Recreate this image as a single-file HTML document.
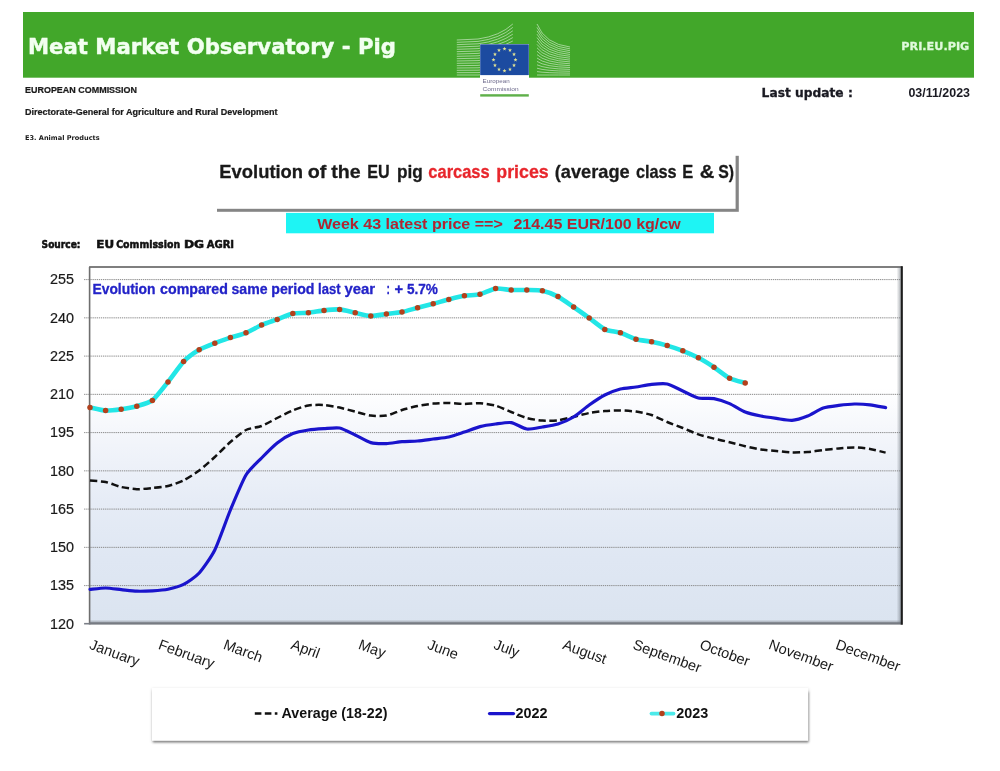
<!DOCTYPE html>
<html lang="en"><head><meta charset="utf-8"><title>Meat Market Observatory - Pig</title>
<style>html,body{margin:0;padding:0;background:#fff;}body{width:1000px;height:771px;overflow:hidden;}svg{display:block;filter:blur(0.35px);}.ar{font-family:"Liberation Sans",sans-serif;}.vd{font-family:"DejaVu Sans","Liberation Sans",sans-serif;}</style>
</head><body>
<svg width="1000" height="771" viewBox="0 0 1000 771">
<defs>
<linearGradient id="pg" x1="0" y1="0" x2="0" y2="1"><stop offset="0" stop-color="#ffffff"/><stop offset="0.34" stop-color="#ffffff"/><stop offset="0.5" stop-color="#f1f4fa"/><stop offset="0.655" stop-color="#e6ecf6"/><stop offset="0.82" stop-color="#dfe7f3"/><stop offset="1" stop-color="#dbe4f0"/></linearGradient>
<filter id="sh" x="-5%" y="-20%" width="110%" height="150%"><feGaussianBlur stdDeviation="1.2"/></filter>
<filter id="sh2" x="-5%" y="-20%" width="110%" height="150%"><feGaussianBlur stdDeviation="0.5"/></filter>
<filter id="sh3" x="-5%" y="-30%" width="110%" height="160%"><feGaussianBlur stdDeviation="1.6"/></filter>
<linearGradient id="bb" x1="0" y1="0" x2="0" y2="1"><stop offset="0" stop-color="#7a7e86" stop-opacity="0"/><stop offset="0.45" stop-color="#7a7e86" stop-opacity="0.45"/><stop offset="0.62" stop-color="#787c84" stop-opacity="1"/><stop offset="1" stop-color="#74787f" stop-opacity="1"/></linearGradient>
<linearGradient id="rb" x1="0" y1="0" x2="1" y2="0"><stop offset="0" stop-color="#6c747c" stop-opacity="0"/><stop offset="1" stop-color="#6c747c" stop-opacity="0.6"/></linearGradient>
</defs>
<rect width="1000" height="771" fill="#ffffff"/>
<rect x="23" y="12" width="951" height="65.7" fill="#42a72a"/>
<text class="vd" x="28" y="53.6" font-size="21.2" font-weight="bold" fill="#f2fff0" stroke="#f2fff0" stroke-width="0.45" textLength="368" lengthAdjust="spacingAndGlyphs">Meat Market Observatory - Pig</text>
<text class="vd" x="901.3" y="49.7" font-size="11" font-weight="bold" fill="#e0fadc" stroke="#e0fadc" stroke-width="0.3" textLength="68" lengthAdjust="spacingAndGlyphs">PRI.EU.PIG</text>
<g fill="none" stroke="#ffffff" stroke-opacity="0.5" stroke-width="1"><path d="M456.8,40.00 L478.00,39.00 Q500.00,36.00 512.80,24.00"/><path d="M456.8,42.33 L478.00,41.40 Q500.00,38.47 512.80,27.40"/><path d="M456.8,44.67 L478.00,43.80 Q500.00,40.93 512.80,30.80"/><path d="M456.8,47.00 L478.00,46.20 Q500.00,43.40 512.80,34.20"/><path d="M456.8,49.33 L478.00,48.60 Q500.00,45.87 512.80,37.60"/><path d="M456.8,51.67 L478.00,51.00 Q500.00,48.33 512.80,41.00"/><path d="M456.8,54.00 L478.00,53.40 Q500.00,50.80 512.80,44.40"/><path d="M456.8,56.33 L478.00,55.80 Q500.00,53.27 512.80,47.80"/><path d="M456.8,58.67 L478.00,58.20 Q500.00,55.73 512.80,51.20"/><path d="M456.8,61.00 L478.00,60.60 Q500.00,58.20 512.80,54.60"/><path d="M456.8,63.33 L478.00,63.00 Q500.00,60.67 512.80,58.00"/><path d="M456.8,65.67 L478.00,65.40 Q500.00,63.13 512.80,61.40"/><path d="M456.8,68.00 L478.00,67.80 Q500.00,65.60 512.80,64.80"/><path d="M456.8,70.33 L478.00,70.20 Q500.00,68.07 512.80,68.20"/><path d="M456.8,72.67 L478.00,72.60 Q500.00,70.53 512.80,71.60"/><path d="M456.8,75.00 L478.00,75.00 Q500.00,73.00 512.80,75.00"/><path d="M537,24.00 Q545.00,44.00 570.00,47.00"/><path d="M537,27.40 Q545.00,46.07 570.00,48.87"/><path d="M537,30.80 Q545.00,48.13 570.00,50.73"/><path d="M537,34.20 Q545.00,50.20 570.00,52.60"/><path d="M537,37.60 Q545.00,52.27 570.00,54.47"/><path d="M537,41.00 Q545.00,54.33 570.00,56.33"/><path d="M537,44.40 Q545.00,56.40 570.00,58.20"/><path d="M537,47.80 Q545.00,58.47 570.00,60.07"/><path d="M537,51.20 Q545.00,60.53 570.00,61.93"/><path d="M537,54.60 Q545.00,62.60 570.00,63.80"/><path d="M537,58.00 Q545.00,64.67 570.00,65.67"/><path d="M537,61.40 Q545.00,66.73 570.00,67.53"/><path d="M537,64.80 Q545.00,68.80 570.00,69.40"/><path d="M537,68.20 Q545.00,70.87 570.00,71.27"/><path d="M537,71.60 Q545.00,72.93 570.00,73.13"/><path d="M537,75.00 Q545.00,75.00 570.00,75.00"/></g>
<rect x="480" y="44" width="49" height="53" fill="#ffffff"/>
<rect x="480.2" y="44.3" width="48.6" height="30.8" fill="#1c4ba0"/>
<g fill="#e4e494"><polygon points="504.50,46.70 505.00,48.11 506.50,48.15 505.31,49.06 505.73,50.50 504.50,49.65 503.27,50.50 503.69,49.06 502.50,48.15 504.00,48.11"/><polygon points="510.00,48.17 510.50,49.59 512.00,49.62 510.81,50.54 511.23,51.97 510.00,51.12 508.77,51.97 509.19,50.54 508.00,49.62 509.50,49.59"/><polygon points="514.03,52.20 514.53,53.61 516.02,53.65 514.83,54.56 515.26,56.00 514.03,55.15 512.79,56.00 513.22,54.56 512.03,53.65 513.53,53.61"/><polygon points="515.50,57.70 516.00,59.11 517.50,59.15 516.31,60.06 516.73,61.50 515.50,60.65 514.27,61.50 514.69,60.06 513.50,59.15 515.00,59.11"/><polygon points="514.03,63.20 514.53,64.61 516.02,64.65 514.83,65.56 515.26,67.00 514.03,66.15 512.79,67.00 513.22,65.56 512.03,64.65 513.53,64.61"/><polygon points="510.00,67.23 510.50,68.64 512.00,68.68 510.81,69.59 511.23,71.03 510.00,70.18 508.77,71.03 509.19,69.59 508.00,68.68 509.50,68.64"/><polygon points="504.50,68.70 505.00,70.11 506.50,70.15 505.31,71.06 505.73,72.50 504.50,71.65 503.27,72.50 503.69,71.06 502.50,70.15 504.00,70.11"/><polygon points="499.00,67.23 499.50,68.64 501.00,68.68 499.81,69.59 500.23,71.03 499.00,70.18 497.77,71.03 498.19,69.59 497.00,68.68 498.50,68.64"/><polygon points="494.97,63.20 495.47,64.61 496.97,64.65 495.78,65.56 496.21,67.00 494.97,66.15 493.74,67.00 494.17,65.56 492.98,64.65 494.47,64.61"/><polygon points="493.50,57.70 494.00,59.11 495.50,59.15 494.31,60.06 494.73,61.50 493.50,60.65 492.27,61.50 492.69,60.06 491.50,59.15 493.00,59.11"/><polygon points="494.97,52.20 495.47,53.61 496.97,53.65 495.78,54.56 496.21,56.00 494.97,55.15 493.74,56.00 494.17,54.56 492.98,53.65 494.47,53.61"/><polygon points="499.00,48.17 499.50,49.59 501.00,49.62 499.81,50.54 500.23,51.97 499.00,51.12 497.77,51.97 498.19,50.54 497.00,49.62 498.50,49.59"/></g>
<text class="ar" x="482.6" y="83.3" font-size="5.1" fill="#6d6a8c" textLength="27" lengthAdjust="spacingAndGlyphs">European</text>
<text class="ar" x="482.6" y="91.0" font-size="5.1" fill="#6d6a8c" textLength="36" lengthAdjust="spacingAndGlyphs">Commission</text>
<rect x="480.2" y="94.2" width="48.6" height="2.4" fill="#5fb04a"/>
<text class="ar" x="25" y="92.8" font-size="8.5" font-weight="bold" fill="#1a1a1a" stroke="#1a1a1a" stroke-width="0.2" textLength="112" lengthAdjust="spacingAndGlyphs">EUROPEAN COMMISSION</text>
<text class="ar" x="25" y="114.5" font-size="8.5" font-weight="bold" fill="#1a1a1a" stroke="#1a1a1a" stroke-width="0.2" textLength="252.5" lengthAdjust="spacingAndGlyphs">Directorate-General for Agriculture and Rural Development</text>
<text class="vd" x="25" y="139.6" font-size="6.6" font-weight="bold" fill="#1a1a1a" textLength="74.6" lengthAdjust="spacingAndGlyphs">E3. Animal Products</text>
<text class="vd" x="761.6" y="96.8" font-size="12.3" font-weight="bold" fill="#1a1a22" stroke="#1a1a22" stroke-width="0.3" textLength="91.2" lengthAdjust="spacingAndGlyphs">Last update :</text>
<text class="ar" x="908.4" y="96.6" font-size="12.4" font-weight="bold" fill="#1a1a22" textLength="61.6" lengthAdjust="spacingAndGlyphs">03/11/2023</text>
<rect x="217" y="155.8" width="521.8" height="56" fill="#858585" filter="url(#sh2)"/>
<rect x="216" y="155" width="519.6" height="53.8" fill="#ffffff"/>
<g class="ar" font-size="19.0" font-weight="bold" fill="#1a1a1a" stroke-width="0.3" stroke-linejoin="round"><text x="219.3" y="177.8" textLength="83.8" lengthAdjust="spacingAndGlyphs" stroke="#1a1a1a">Evolution</text><text x="307.7" y="177.8" textLength="18.6" lengthAdjust="spacingAndGlyphs" stroke="#1a1a1a">of</text><text x="331.3" y="177.8" textLength="29.4" lengthAdjust="spacingAndGlyphs" stroke="#1a1a1a">the</text><text x="367.3" y="177.8" textLength="22.4" lengthAdjust="spacingAndGlyphs" stroke="#1a1a1a">EU</text><text x="396.9" y="177.8" textLength="25.8" lengthAdjust="spacingAndGlyphs" stroke="#1a1a1a">pig</text><text x="428.3" y="177.8" textLength="61.4" lengthAdjust="spacingAndGlyphs" fill="#e8262c" stroke="#e8262c">carcass</text><text x="496.3" y="177.8" textLength="52.4" lengthAdjust="spacingAndGlyphs" fill="#e8262c" stroke="#e8262c">prices</text><text x="554.7" y="177.8" textLength="75.0" lengthAdjust="spacingAndGlyphs" stroke="#1a1a1a">(average</text><text x="635.9" y="177.8" textLength="40.8" lengthAdjust="spacingAndGlyphs" stroke="#1a1a1a">class</text><text x="682.3" y="177.8" textLength="11.0" lengthAdjust="spacingAndGlyphs" stroke="#1a1a1a">E</text><text x="699.7" y="177.8" textLength="14.6" lengthAdjust="spacingAndGlyphs" stroke="#1a1a1a">&amp;</text><text x="718.3" y="177.8" textLength="15.8" lengthAdjust="spacingAndGlyphs" stroke="#1a1a1a">S)</text></g>
<rect x="286" y="212.9" width="428" height="20.4" fill="#1ef4f4"/>
<g class="ar" font-size="15.4" font-weight="bold" fill="#b02632"><text x="317.2" y="228.8" textLength="185.6" lengthAdjust="spacingAndGlyphs">Week 43 latest price ==&gt;</text><text x="513.4" y="228.8" textLength="167.2" lengthAdjust="spacingAndGlyphs">214.45 EUR/100 kg/cw</text></g>
<g class="vd" font-size="10.8" font-weight="bold" fill="#111111" stroke-width="0.55" stroke-linejoin="round"><text x="41.6" y="248.3" textLength="38.9" lengthAdjust="spacingAndGlyphs" stroke="#111111">Source:</text><text x="96.3" y="248.3" textLength="17.8" lengthAdjust="spacingAndGlyphs" stroke="#111111">EU</text><text x="116.2" y="248.3" textLength="63.9" lengthAdjust="spacingAndGlyphs" stroke="#111111">Commission</text><text x="183.9" y="248.3" textLength="20.2" lengthAdjust="spacingAndGlyphs" stroke="#111111">DG</text><text x="206.7" y="248.3" textLength="27.4" lengthAdjust="spacingAndGlyphs" stroke="#111111">AGRI</text></g>
<rect x="89.6" y="267.0" width="811.8" height="356.6" fill="url(#pg)"/>
<g stroke="#8a8a8a" stroke-width="1" stroke-dasharray="1.3 0.8"><line x1="84.1" y1="585.60" x2="901.4" y2="585.60"/><line x1="84.1" y1="547.35" x2="901.4" y2="547.35"/><line x1="84.1" y1="509.10" x2="901.4" y2="509.10"/><line x1="84.1" y1="470.85" x2="901.4" y2="470.85"/><line x1="84.1" y1="432.60" x2="901.4" y2="432.60"/><line x1="84.1" y1="394.35" x2="901.4" y2="394.35"/><line x1="84.1" y1="356.10" x2="901.4" y2="356.10"/><line x1="84.1" y1="317.85" x2="901.4" y2="317.85"/><line x1="84.1" y1="279.60" x2="901.4" y2="279.60"/></g>
<line x1="89.1" y1="267.0" x2="902.4" y2="267.0" stroke="#555555" stroke-width="1.6"/>
<line x1="89.6" y1="267.0" x2="89.6" y2="624.6" stroke="#6e6e6e" stroke-width="1.6"/>
<rect x="89.6" y="619.6" width="811.8" height="5" fill="url(#bb)"/>
<rect x="896.6" y="267.0" width="4.6" height="356.6" fill="url(#rb)"/>
<line x1="84.1" y1="623.7" x2="89.6" y2="623.7" stroke="#7b7f87" stroke-width="1.6"/>
<line x1="901.8" y1="266.2" x2="901.8" y2="624.7" stroke="#1c1c1c" stroke-width="2.1"/>
<g class="ar" font-size="14.8" fill="#1a1a1a" stroke="#1a1a1a" stroke-width="0.2"><text x="74" y="628.5" text-anchor="end" textLength="24" lengthAdjust="spacingAndGlyphs">120</text><text x="74" y="590.2" text-anchor="end" textLength="24" lengthAdjust="spacingAndGlyphs">135</text><text x="74" y="552.0" text-anchor="end" textLength="24" lengthAdjust="spacingAndGlyphs">150</text><text x="74" y="513.7" text-anchor="end" textLength="24" lengthAdjust="spacingAndGlyphs">165</text><text x="74" y="475.5" text-anchor="end" textLength="24" lengthAdjust="spacingAndGlyphs">180</text><text x="74" y="437.2" text-anchor="end" textLength="24" lengthAdjust="spacingAndGlyphs">195</text><text x="74" y="399.0" text-anchor="end" textLength="24" lengthAdjust="spacingAndGlyphs">210</text><text x="74" y="360.7" text-anchor="end" textLength="24" lengthAdjust="spacingAndGlyphs">225</text><text x="74" y="322.5" text-anchor="end" textLength="24" lengthAdjust="spacingAndGlyphs">240</text><text x="74" y="284.2" text-anchor="end" textLength="24" lengthAdjust="spacingAndGlyphs">255</text></g>
<g class="ar" font-size="14" font-weight="bold" fill="#2323c8" stroke-width="0.3" stroke-linejoin="round"><text x="92.5" y="294" textLength="63.0" lengthAdjust="spacingAndGlyphs" stroke="#2323c8">Evolution</text><text x="160.1" y="294" textLength="67.8" lengthAdjust="spacingAndGlyphs" stroke="#2323c8">compared</text><text x="231.5" y="294" textLength="36.0" lengthAdjust="spacingAndGlyphs" stroke="#2323c8">same</text><text x="271.3" y="294" textLength="43.2" lengthAdjust="spacingAndGlyphs" stroke="#2323c8">period</text><text x="318.1" y="294" textLength="22.4" lengthAdjust="spacingAndGlyphs" stroke="#2323c8">last</text><text x="344.5" y="294" textLength="30.6" lengthAdjust="spacingAndGlyphs" stroke="#2323c8">year</text><text x="386.5" y="294" textLength="3.4" lengthAdjust="spacingAndGlyphs" stroke="#2323c8">:</text><text x="394.5" y="294" textLength="8.6" lengthAdjust="spacingAndGlyphs" stroke="#2323c8">+</text><text x="406.9" y="294" textLength="31.0" lengthAdjust="spacingAndGlyphs" stroke="#2323c8">5.7%</text></g>
<path d="M90.00,480.60 C91.72,480.75 102.17,481.30 105.60,482.00 C109.03,482.70 117.77,486.21 121.20,487.00 C124.63,487.79 133.37,489.09 136.80,489.20 C140.23,489.31 148.97,488.35 152.40,488.00 C155.83,487.65 164.57,486.84 168.00,486.00 C171.43,485.16 180.17,482.10 183.60,480.40 C187.03,478.69 195.77,473.07 199.20,470.50 C202.63,467.93 211.37,460.13 214.80,457.00 C218.23,453.87 226.97,444.97 230.40,442.00 C233.83,439.03 242.57,431.76 246.00,430.00 C249.43,428.24 258.17,427.32 261.60,426.00 C265.03,424.68 273.77,419.72 277.20,418.00 C280.63,416.28 289.37,411.79 292.80,410.40 C296.23,409.01 304.97,405.99 308.40,405.40 C311.83,404.81 320.57,404.76 324.00,405.00 C327.43,405.24 336.17,406.87 339.60,407.60 C343.03,408.33 351.77,410.72 355.20,411.60 C358.63,412.48 367.37,415.16 370.80,415.60 C374.23,416.04 382.97,416.22 386.40,415.60 C389.83,414.98 398.57,411.06 402.00,410.00 C405.43,408.94 414.17,406.70 417.60,406.00 C421.03,405.30 429.77,403.93 433.20,403.60 C436.63,403.27 445.37,402.96 448.80,403.00 C452.23,403.04 460.97,403.98 464.40,404.00 C467.83,404.02 476.57,403.02 480.00,403.20 C483.43,403.38 492.17,404.63 495.60,405.60 C499.03,406.57 507.77,410.64 511.20,412.00 C514.63,413.36 523.37,417.05 526.80,418.00 C530.23,418.95 538.97,420.35 542.40,420.60 C545.83,420.85 554.57,420.72 558.00,420.30 C561.43,419.88 570.17,417.60 573.60,416.80 C577.03,416.00 585.77,413.64 589.20,413.00 C592.63,412.36 601.37,411.29 604.80,411.00 C608.23,410.71 616.97,410.33 620.40,410.40 C623.83,410.47 632.57,411.09 636.00,411.60 C639.43,412.11 648.17,413.86 651.60,415.00 C655.03,416.14 663.77,420.57 667.20,422.00 C670.63,423.43 679.37,426.64 682.80,428.00 C686.23,429.36 694.97,433.23 698.40,434.40 C701.83,435.57 710.57,437.74 714.00,438.60 C717.43,439.46 726.17,441.36 729.60,442.20 C733.03,443.04 741.77,445.41 745.20,446.20 C748.63,446.99 757.37,448.87 760.80,449.40 C764.23,449.93 772.97,450.67 776.40,451.00 C779.83,451.33 788.57,452.29 792.00,452.40 C795.43,452.51 804.17,452.26 807.60,452.00 C811.03,451.74 819.77,450.40 823.20,450.00 C826.63,449.60 835.37,448.69 838.80,448.40 C842.23,448.11 850.97,447.33 854.40,447.40 C857.83,447.47 866.57,448.43 870.00,449.00 C873.43,449.57 883.88,452.20 885.60,452.60" fill="none" stroke="#111111" stroke-width="2.5" stroke-dasharray="7.3 3.6" stroke-linejoin="round"/>
<path d="M90.00,589.40 C91.72,589.25 102.17,587.98 105.60,588.00 C109.03,588.02 117.77,589.25 121.20,589.60 C124.63,589.95 133.37,591.07 136.80,591.20 C140.23,591.33 148.97,591.02 152.40,590.80 C155.83,590.58 164.57,589.90 168.00,589.20 C171.43,588.50 180.17,586.18 183.60,584.40 C187.03,582.62 195.77,576.78 199.20,573.00 C202.63,569.22 211.37,556.93 214.80,550.00 C218.23,543.07 226.97,518.25 230.40,510.00 C233.83,501.75 242.57,480.72 246.00,475.00 C249.43,469.28 258.17,461.52 261.60,458.00 C265.03,454.48 273.77,445.68 277.20,443.00 C280.63,440.32 289.37,435.03 292.80,433.60 C296.23,432.17 304.97,430.55 308.40,430.00 C311.83,429.45 320.57,428.82 324.00,428.60 C327.43,428.38 336.17,427.30 339.60,428.00 C343.03,428.70 351.77,433.39 355.20,435.00 C358.63,436.61 367.37,441.65 370.80,442.60 C374.23,443.55 382.97,443.71 386.40,443.60 C389.83,443.49 398.57,441.89 402.00,441.60 C405.43,441.31 414.17,441.29 417.60,441.00 C421.03,440.71 429.77,439.44 433.20,439.00 C436.63,438.56 445.37,437.77 448.80,437.00 C452.23,436.23 460.97,433.14 464.40,432.00 C467.83,430.86 476.57,427.48 480.00,426.60 C483.43,425.72 492.17,424.44 495.60,424.00 C499.03,423.56 507.77,422.05 511.20,422.60 C514.63,423.15 523.37,428.52 526.80,429.00 C530.23,429.48 538.97,427.55 542.40,427.00 C545.83,426.45 554.57,425.10 558.00,424.00 C561.43,422.90 570.17,419.09 573.60,417.00 C577.03,414.91 585.77,407.42 589.20,405.00 C592.63,402.58 601.37,396.76 604.80,395.00 C608.23,393.24 616.97,389.88 620.40,389.00 C623.83,388.12 632.57,387.51 636.00,387.00 C639.43,386.49 648.17,384.73 651.60,384.40 C655.03,384.07 663.77,383.27 667.20,384.00 C670.63,384.73 679.37,389.46 682.80,391.00 C686.23,392.54 694.97,397.16 698.40,398.00 C701.83,398.84 710.57,397.98 714.00,398.60 C717.43,399.22 726.17,402.13 729.60,403.60 C733.03,405.07 741.77,410.64 745.20,412.00 C748.63,413.36 757.37,415.30 760.80,416.00 C764.23,416.70 772.97,417.92 776.40,418.40 C779.83,418.88 788.57,420.66 792.00,420.40 C795.43,420.14 804.17,417.36 807.60,416.00 C811.03,414.64 819.77,409.17 823.20,408.00 C826.63,406.83 835.37,405.84 838.80,405.40 C842.23,404.96 850.97,404.07 854.40,404.00 C857.83,403.93 866.57,404.40 870.00,404.80 C873.43,405.20 883.88,407.29 885.60,407.60" fill="none" stroke="#1a14cc" stroke-width="3.2" stroke-linejoin="round" stroke-linecap="round"/>
<path d="M90.00,407.40 C91.72,407.75 102.17,410.40 105.60,410.60 C109.03,410.80 117.77,409.68 121.20,409.20 C124.63,408.72 133.37,407.17 136.80,406.20 C140.23,405.23 148.97,403.06 152.40,400.40 C155.83,397.74 164.57,386.27 168.00,382.00 C171.43,377.73 180.17,365.14 183.60,361.60 C187.03,358.06 195.77,351.82 199.20,349.80 C202.63,347.78 211.37,344.54 214.80,343.20 C218.23,341.86 226.97,338.74 230.40,337.60 C233.83,336.46 242.57,334.19 246.00,332.80 C249.43,331.41 258.17,326.47 261.60,325.00 C265.03,323.53 273.77,320.65 277.20,319.40 C280.63,318.15 289.37,314.33 292.80,313.60 C296.23,312.87 304.97,313.15 308.40,312.80 C311.83,312.45 320.57,310.77 324.00,310.40 C327.43,310.03 336.17,309.14 339.60,309.40 C343.03,309.66 351.77,312.07 355.20,312.80 C358.63,313.53 367.37,315.87 370.80,316.00 C374.23,316.13 382.97,314.44 386.40,314.00 C389.83,313.56 398.57,312.68 402.00,312.00 C405.43,311.32 414.17,308.70 417.60,307.80 C421.03,306.90 429.77,304.72 433.20,303.80 C436.63,302.88 445.37,300.28 448.80,299.40 C452.23,298.52 460.97,296.37 464.40,295.80 C467.83,295.23 476.57,294.99 480.00,294.20 C483.43,293.41 492.17,289.06 495.60,288.60 C499.03,288.14 507.77,289.85 511.20,290.00 C514.63,290.15 523.37,289.91 526.80,290.00 C530.23,290.09 538.97,290.07 542.40,290.80 C545.83,291.53 554.57,294.82 558.00,296.60 C561.43,298.38 570.17,304.65 573.60,307.00 C577.03,309.35 585.77,315.54 589.20,318.00 C592.63,320.46 601.37,327.77 604.80,329.40 C608.23,331.03 616.97,331.72 620.40,332.80 C623.83,333.88 632.57,338.21 636.00,339.20 C639.43,340.19 648.17,341.10 651.60,341.80 C655.03,342.50 663.77,344.61 667.20,345.60 C670.63,346.59 679.37,349.46 682.80,350.80 C686.23,352.14 694.97,356.00 698.40,357.80 C701.83,359.60 710.57,364.96 714.00,367.20 C717.43,369.44 726.17,376.47 729.60,378.20 C733.03,379.93 743.48,382.38 745.20,382.90" fill="none" stroke="#22e6e6" stroke-width="4.6" stroke-linejoin="round" stroke-linecap="round"/>
<g fill="#b4401c"><circle cx="90.0" cy="407.4" r="2.75"/><circle cx="105.6" cy="410.6" r="2.75"/><circle cx="121.2" cy="409.2" r="2.75"/><circle cx="136.8" cy="406.2" r="2.75"/><circle cx="152.4" cy="400.4" r="2.75"/><circle cx="168.0" cy="382.0" r="2.75"/><circle cx="183.6" cy="361.6" r="2.75"/><circle cx="199.2" cy="349.8" r="2.75"/><circle cx="214.8" cy="343.2" r="2.75"/><circle cx="230.4" cy="337.6" r="2.75"/><circle cx="246.0" cy="332.8" r="2.75"/><circle cx="261.6" cy="325.0" r="2.75"/><circle cx="277.2" cy="319.4" r="2.75"/><circle cx="292.8" cy="313.6" r="2.75"/><circle cx="308.4" cy="312.8" r="2.75"/><circle cx="324.0" cy="310.4" r="2.75"/><circle cx="339.6" cy="309.4" r="2.75"/><circle cx="355.2" cy="312.8" r="2.75"/><circle cx="370.8" cy="316.0" r="2.75"/><circle cx="386.4" cy="314.0" r="2.75"/><circle cx="402.0" cy="312.0" r="2.75"/><circle cx="417.6" cy="307.8" r="2.75"/><circle cx="433.2" cy="303.8" r="2.75"/><circle cx="448.8" cy="299.4" r="2.75"/><circle cx="464.4" cy="295.8" r="2.75"/><circle cx="480.0" cy="294.2" r="2.75"/><circle cx="495.6" cy="288.6" r="2.75"/><circle cx="511.2" cy="290.0" r="2.75"/><circle cx="526.8" cy="290.0" r="2.75"/><circle cx="542.4" cy="290.8" r="2.75"/><circle cx="558.0" cy="296.6" r="2.75"/><circle cx="573.6" cy="307.0" r="2.75"/><circle cx="589.2" cy="318.0" r="2.75"/><circle cx="604.8" cy="329.4" r="2.75"/><circle cx="620.4" cy="332.8" r="2.75"/><circle cx="636.0" cy="339.2" r="2.75"/><circle cx="651.6" cy="341.8" r="2.75"/><circle cx="667.2" cy="345.6" r="2.75"/><circle cx="682.8" cy="350.8" r="2.75"/><circle cx="698.4" cy="357.8" r="2.75"/><circle cx="714.0" cy="367.2" r="2.75"/><circle cx="729.6" cy="378.2" r="2.75"/><circle cx="745.2" cy="382.9" r="2.75"/></g>
<g class="ar" font-size="14.6" fill="#1a1a1a"><text transform="translate(88.5,648.6) rotate(20)">January</text><text transform="translate(157.4,648.6) rotate(20)">February</text><text transform="translate(222.4,648.6) rotate(20)">March</text><text transform="translate(290.0,648.6) rotate(20)">April</text><text transform="translate(357.6,648.6) rotate(20)">May</text><text transform="translate(426.5,648.6) rotate(20)">June</text><text transform="translate(492.8,648.6) rotate(20)">July</text><text transform="translate(561.7,648.6) rotate(20)">August</text><text transform="translate(631.9,648.6) rotate(20)">September</text><text transform="translate(698.7,648.6) rotate(20)">October</text><text transform="translate(767.7,648.6) rotate(20)">November</text><text transform="translate(834.7,648.6) rotate(20)">December</text></g>
<rect x="152" y="689" width="656.4" height="52.6" fill="#8a8a8a" filter="url(#sh3)" opacity="0.45"/>
<rect x="153" y="692" width="655.6" height="50.4" fill="#6a6a6a" filter="url(#sh)" opacity="0.8"/>
<rect x="152" y="688" width="656.2" height="52.8" fill="#ffffff"/>
<line x1="254.8" y1="713.5" x2="280" y2="713.5" stroke="#111111" stroke-width="2.4" stroke-dasharray="6.6 3.4 6.6 3.4 2.6 3"/>
<line x1="489.5" y1="713.6" x2="513.5" y2="713.6" stroke="#1a14cc" stroke-width="3.2" stroke-linecap="round"/>
<line x1="651.5" y1="713.6" x2="673.5" y2="713.6" stroke="#4ceaea" stroke-width="3.8" stroke-linecap="round"/>
<circle cx="662" cy="713.6" r="2.75" fill="#b4401c"/>
<g class="ar" font-size="14.4" font-weight="bold" fill="#111111"><text x="281.6" y="718.3" textLength="105.8" lengthAdjust="spacingAndGlyphs">Average (18-22)</text><text x="515.4" y="718.3" textLength="32" lengthAdjust="spacingAndGlyphs">2022</text><text x="676.3" y="718.3" textLength="32" lengthAdjust="spacingAndGlyphs">2023</text></g>
</svg>
</body></html>
